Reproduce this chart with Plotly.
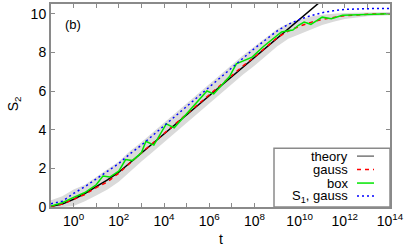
import plotly.graph_objects as go

# ---- data (log10 t exponents and S2 values) ----
theory_logt = [-1, -0.5, 0, 0.5, 1, 1.5, 2, 11]
theory_s = [0.03, 0.15, 0.4, 0.7, 1.05, 1.4, 1.8, 10.7]

box_logt = [-1, -0.5, 0, 0.5, 1, 1.3, 1.6, 2, 2.3, 2.6, 3, 3.2, 3.55, 4.1, 4.45, 5,
            5.9, 6.2, 6.9, 7.2, 7.9, 8.4, 9.2, 9.7, 9.95, 10.2, 10.5, 11.0, 11.4, 11.9, 12.8, 14]
box_s = [0.05, 0.22, 0.5, 0.75, 1.15, 1.6, 1.55, 1.85, 2.45, 2.4, 2.8, 3.4, 3.2, 4.3, 4.1, 4.8,
         6.0, 5.85, 6.75, 7.4, 7.75, 8.3, 9.05, 9.15, 9.4, 9.57, 9.45, 9.82, 9.74, 9.92, 9.96, 10.0]

grid_logt = [-1, -0.5, 0, 0.5, 1, 1.5, 2, 2.5, 3, 3.5, 4, 4.5, 5, 5.5, 6, 6.5, 7, 7.5, 8, 8.5,
             9, 9.5, 10, 10.5, 11, 11.5, 12, 13, 14]
gauss_s = [0.03, 0.15, 0.4, 0.65, 1.0, 1.3, 1.75, 2.3, 2.8, 3.3, 3.8, 4.3, 4.8, 5.3, 5.75, 6.3,
           6.8, 7.3, 7.75, 8.25, 8.75, 9.1, 9.35, 9.55, 9.7, 9.8, 9.9, 9.97, 10.0]
s1_gauss_s = [0.17, 0.3, 0.7, 1.05, 1.45, 1.85, 2.25, 2.75, 3.2, 3.7, 4.2, 4.7, 5.2, 5.7, 6.2, 6.7,
              7.2, 7.7, 8.2, 8.65, 9.1, 9.45, 9.7, 9.9, 10.05, 10.15, 10.22, 10.26, 10.27]
band_lo = [0.0, 0.0, 0.05, 0.3, 0.6, 0.9, 1.3, 1.85, 2.35, 2.85, 3.35, 3.85, 4.35, 4.85, 5.3, 5.85,
           6.35, 6.85, 7.3, 7.8, 8.3, 8.7, 8.95, 9.2, 9.42, 9.58, 9.73, 9.87, 9.92]
band_hi = [0.35, 0.55, 0.9, 1.15, 1.55, 1.95, 2.35, 2.9, 3.35, 3.85, 4.35, 4.85, 5.35, 5.85, 6.35, 6.85,
           7.35, 7.85, 8.3, 8.75, 9.2, 9.5, 9.7, 9.85, 9.95, 10.0, 10.04, 10.06, 10.08]

x_tick_exps = list(range(-1, 15))


def tv(exps):
    return [10 ** e for e in exps]


fig = go.Figure()

# gray spread band
fig.add_trace(go.Scatter(x=tv(grid_logt), y=band_hi, mode="lines",
                         line=dict(width=0, color="rgba(0,0,0,0)"), showlegend=False,
                         hoverinfo="skip"))
fig.add_trace(go.Scatter(x=tv(grid_logt), y=band_lo, mode="lines", fill="tonexty",
                         fillcolor="rgb(218,218,218)",
                         line=dict(width=0, color="rgba(0,0,0,0)"), showlegend=False,
                         hoverinfo="skip"))

fig.add_trace(go.Scatter(x=tv(theory_logt), y=theory_s, mode="lines",
                         line=dict(color="black", width=1.5), name="theory"))
fig.add_trace(go.Scatter(x=tv(grid_logt), y=gauss_s, mode="lines",
                         line=dict(color="#ff0000", width=1.5, dash="4px,4px"), name="gauss"))
fig.add_trace(go.Scatter(x=tv(box_logt), y=box_s, mode="lines",
                         line=dict(color="#00e600", width=1.5), name="box"))
fig.add_trace(go.Scatter(x=tv(grid_logt), y=s1_gauss_s, mode="lines",
                         line=dict(color="#0000ff", width=1.5, dash="2px,3px"), name="S1, gauss"))

axis_col = "#8a8a8a"
font_fam = "Liberation Sans, Arial, sans-serif"

fig.update_xaxes(type="log", range=[-1, 14], automargin=False,
                 tickvals=tv(x_tick_exps),
                 ticktext=[("10<sup>%d</sup>" % e) if e % 2 == 0 else "" for e in x_tick_exps],
                 ticks="inside", ticklen=4, tickwidth=1, tickcolor=axis_col,
                 showline=True, linecolor=axis_col, linewidth=2, mirror="allticks",
                 showgrid=False, zeroline=False,
                 tickfont=dict(size=14, color="black", family=font_fam))
fig.update_yaxes(range=[0, 10.5], tickvals=[0, 2, 4, 6, 8, 10], automargin=False,
                 ticks="inside", ticklen=4, tickwidth=1, tickcolor=axis_col,
                 showline=True, linecolor=axis_col, linewidth=2, mirror="allticks",
                 showgrid=False, zeroline=False,
                 tickfont=dict(size=14, color="black", family=font_fam))

# manual gnuplot-style legend (text left, line sample right)
L = 51.0
W = 339.0
B = 207.0
H = 203.5


def px(x):
    return (x - L) / W


def py(y):
    return (B - y) / H


shapes = [dict(type="rect", xref="paper", yref="paper", x0=px(274), x1=1.0, y0=0.0, y1=py(148),
               line=dict(color=axis_col, width=1.5), fillcolor="white", layer="above")]
annotations = []
entries = [("theory", "#777777", "solid", 156),
           ("gauss", "#ff0000", "4px,4px", 169.5),
           ("box", "#00e600", "solid", 183),
           ("S<sub>1</sub>, gauss", "#0000ff", "2px,3px", 196)]
for text, col, dash, yy in entries:
    annotations.append(dict(xref="paper", yref="paper", x=px(350), y=py(yy), text=text,
                            showarrow=False, xanchor="right", yanchor="middle",
                            font=dict(size=13, color="black", family=font_fam)))
    shapes.append(dict(type="line", xref="paper", yref="paper", x0=px(357), x1=px(374),
                       y0=py(yy), y1=py(yy), line=dict(color=col, width=1.5, dash=dash),
                       layer="above"))

annotations.append(dict(xref="paper", yref="paper", x=px(73), y=py(24), text="(b)",
                        showarrow=False, xanchor="center", yanchor="middle",
                        font=dict(size=13, color="black", family=font_fam)))
# axis titles
annotations.append(dict(xref="paper", yref="paper", x=px(221), y=py(239), text="t",
                        showarrow=False, xanchor="center", yanchor="middle",
                        font=dict(size=14, color="black", family=font_fam)))
annotations.append(dict(xref="paper", yref="paper", x=px(14), y=py(104), text="S<sub>2</sub>",
                        showarrow=False, xanchor="center", yanchor="middle", textangle=-90,
                        font=dict(size=14, color="black", family=font_fam)))

fig.update_layout(width=415, height=247, margin=dict(l=51, r=25, t=3.5, b=40, autoexpand=False),
                  plot_bgcolor="white", paper_bgcolor="white", showlegend=False,
                  shapes=shapes, annotations=annotations)

fig.write_html("out.html", config={"displayModeBar": False},
               post_script="document.body.style.margin='0px';document.body.style.padding='0px';")
